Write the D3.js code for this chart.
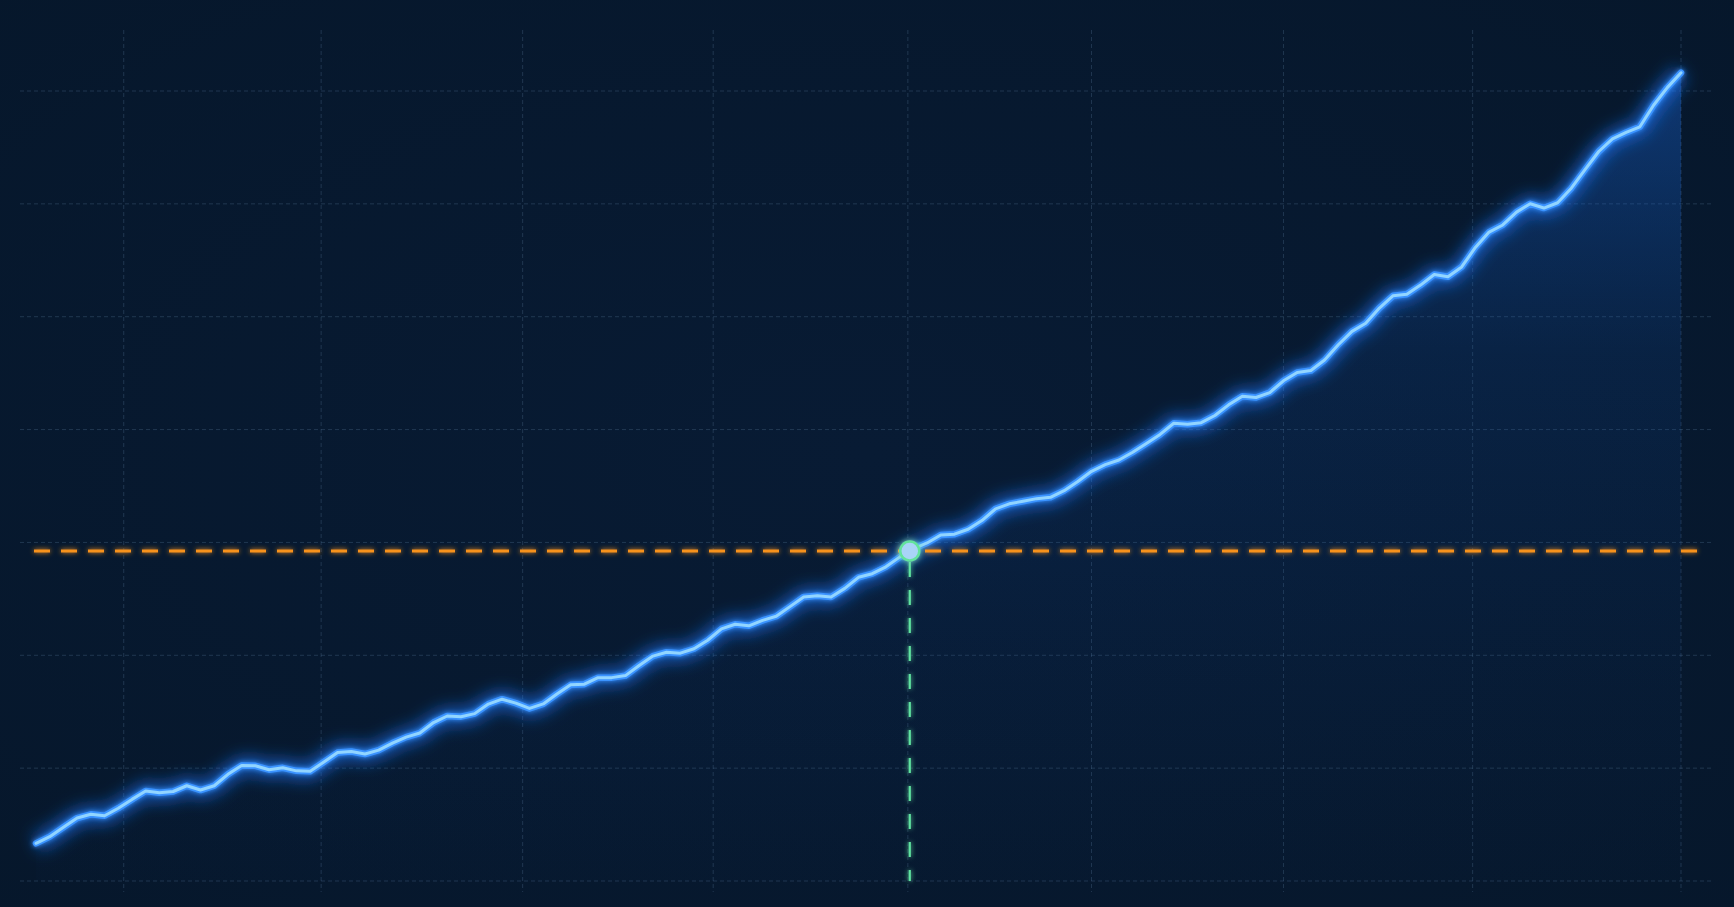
<!DOCTYPE html>
<html>
<head>
<meta charset="utf-8">
<script src="https://cdn.jsdelivr.net/npm/d3@7"></script>
<style>
  html, body { margin: 0; padding: 0; background: #07182c; overflow: hidden; }
  svg { display: block; }
</style>
</head>
<body>
<svg id="chart"></svg>
<script>
// series, one value per period (index 0..120)
const values = [
  3.34, 3.93, 4.76, 5.58, 5.91, 5.78, 6.45, 7.23, 7.97, 7.82,
  7.93, 8.44, 8.06, 8.44, 9.45, 10.23, 10.21, 9.86, 10.03, 9.76,
  9.73, 10.54, 11.38, 11.48, 11.25, 11.60, 12.22, 12.75, 13.11, 14.04,
  14.62, 14.56, 14.83, 15.68, 16.11, 15.76, 15.29, 15.69, 16.57, 17.38,
  17.44, 18.02, 18.02, 18.20, 19.10, 19.93, 20.27, 20.19, 20.58, 21.33,
  22.34, 22.75, 22.61, 23.09, 23.46, 24.31, 25.17, 25.27, 25.17, 25.93,
  26.91, 27.23, 27.84, 28.70, 29.43, 29.95, 30.66, 30.73, 31.17, 31.94,
  32.98, 33.42, 33.65, 33.88, 34.00, 34.59, 35.40, 36.30, 36.89, 37.30,
  37.99, 38.77, 39.57, 40.56, 40.47, 40.61, 41.25, 42.19, 42.96, 42.84,
  43.28, 44.32, 45.06, 45.23, 46.16, 47.52, 48.70, 49.42, 50.77, 51.86,
  51.99, 52.80, 53.74, 53.54, 54.41, 56.14, 57.50, 58.13, 59.27, 60.01,
  59.63, 60.10, 61.39, 63.03, 64.64, 65.75, 66.33, 66.83, 68.74, 70.30,
  71.62
]
const threshold = 29.24
const xGridTicks = [6.4, 20.8, 35.5, 49.4, 63.6, 77, 91, 104.8, 120]
const yGridTicks = [0, 10, 20, 30, 40, 50, 60, 70]

const width = 1734
const height = 907
const grid = { left: 20, right: 1713, top: 30, bottom: 892 }

const data = values.map((v, i) => ({ i, v }))

const svg = d3.select('#chart')
  .attr('width', width)
  .attr('height', height)

const x = d3.scaleLinear()
  .domain([0, values.length - 1])
  .range([36, 1681])

const y = d3.scaleLinear()
  .domain([0, 70])
  .range([881, 91])

const defs = svg.append('defs')

const bg = defs.append('radialGradient')
  .attr('id', 'bg')
  .attr('cx', '50%').attr('cy', '50%').attr('r', '75%')
bg.append('stop').attr('offset', '0%').attr('stop-color', '#081b34')
bg.append('stop').attr('offset', '100%').attr('stop-color', '#06172b')

const areaFill = defs.append('linearGradient')
  .attr('id', 'areaFill')
  .attr('gradientUnits', 'userSpaceOnUse')
  .attr('x1', 0).attr('x2', 0)
  .attr('y1', y(d3.max(values))).attr('y2', y(0))
areaFill.append('stop').attr('offset', '0%').attr('stop-color', '#1e78ff').attr('stop-opacity', 0.34)
areaFill.append('stop').attr('offset', '35%').attr('stop-color', '#1663d0').attr('stop-opacity', 0.13)
areaFill.append('stop').attr('offset', '100%').attr('stop-color', '#0d3f88').attr('stop-opacity', 0.02)

// filters in user space so flat lines still render
function glow (id, dev) {
  const f = defs.append('filter')
    .attr('id', id)
    .attr('filterUnits', 'userSpaceOnUse')
    .attr('x', 0).attr('y', 0)
    .attr('width', width).attr('height', height)
  f.append('feGaussianBlur').attr('in', 'SourceGraphic').attr('stdDeviation', dev).attr('result', 'blur')
  const m = f.append('feMerge')
  m.append('feMergeNode').attr('in', 'blur')
  m.append('feMergeNode').attr('in', 'SourceGraphic')
}
glow('glowSoft', 2.5)
glow('glowMarker', 3)

const blur = defs.append('filter')
  .attr('id', 'blurWide')
  .attr('filterUnits', 'userSpaceOnUse')
  .attr('x', 0).attr('y', 0)
  .attr('width', width).attr('height', height)
blur.append('feGaussianBlur').attr('stdDeviation', 8)

svg.append('rect')
  .attr('width', width)
  .attr('height', height)
  .attr('fill', 'url(#bg)')

// grid
const gridG = svg.append('g').attr('class', 'grid')

gridG.selectAll('.hgrid')
  .data(yGridTicks)
  .enter()
  .append('line')
  .attr('class', 'hgrid')
  .attr('x1', grid.left)
  .attr('x2', grid.right)
  .attr('y1', d => y(d))
  .attr('y2', d => y(d))

gridG.selectAll('.vgrid')
  .data(xGridTicks)
  .enter()
  .append('line')
  .attr('class', 'vgrid')
  .attr('x1', d => x(d))
  .attr('x2', d => x(d))
  .attr('y1', grid.top)
  .attr('y2', grid.bottom)

gridG.selectAll('line')
  .attr('stroke', '#4f6f90')
  .attr('stroke-opacity', 0.35)
  .attr('stroke-width', 1)
  .attr('stroke-dasharray', '4 3')

// area + line
const area = d3.area()
  .x(d => x(d.i))
  .y0(y(0))
  .y1(d => y(d.v))

const line = d3.line()
  .x(d => x(d.i))
  .y(d => y(d.v))

svg.append('path')
  .datum(data)
  .attr('d', area)
  .attr('fill', 'url(#areaFill)')

svg.append('path')
  .datum(data)
  .attr('d', line)
  .attr('fill', 'none')
  .attr('stroke', '#1a78ff')
  .attr('stroke-width', 18)
  .attr('stroke-opacity', 0.6)
  .attr('stroke-linejoin', 'round')
  .attr('filter', 'url(#blurWide)')

svg.append('path')
  .datum(data)
  .attr('d', line)
  .attr('fill', 'none')
  .attr('stroke', '#3a93ff')
  .attr('stroke-width', 6.5)
  .attr('stroke-linejoin', 'round')
  .attr('stroke-linecap', 'round')
  .attr('filter', 'url(#glowSoft)')

svg.append('path')
  .datum(data)
  .attr('d', line)
  .attr('fill', 'none')
  .attr('stroke', '#92d5ff')
  .attr('stroke-width', 3)
  .attr('stroke-linejoin', 'round')
  .attr('stroke-linecap', 'round')

// where the series first reaches the threshold
const k = values.findIndex(v => v >= threshold)
const crossI = k - 1 + (threshold - values[k - 1]) / (values[k] - values[k - 1])

// threshold line
svg.append('line')
  .attr('x1', 34)
  .attr('x2', 1698)
  .attr('y1', y(threshold))
  .attr('y2', y(threshold))
  .attr('stroke', '#f7921f')
  .attr('stroke-width', 2.8)
  .attr('stroke-dasharray', '16 11')
  .attr('filter', 'url(#glowSoft)')

// drop line
svg.append('line')
  .attr('x1', x(crossI))
  .attr('x2', x(crossI))
  .attr('y1', y(threshold) + 11)
  .attr('y2', y(0))
  .attr('stroke', '#5fe3a0')
  .attr('stroke-width', 2.2)
  .attr('stroke-dasharray', '15 13')
  .attr('filter', 'url(#glowSoft)')

// marker
svg.append('circle')
  .attr('cx', x(crossI))
  .attr('cy', y(threshold))
  .attr('r', 9.5)
  .attr('fill', '#a9d4f7')
  .attr('stroke', '#62e39c')
  .attr('stroke-width', 2.5)
  .attr('filter', 'url(#glowMarker)')
</script>
</body>
</html>
